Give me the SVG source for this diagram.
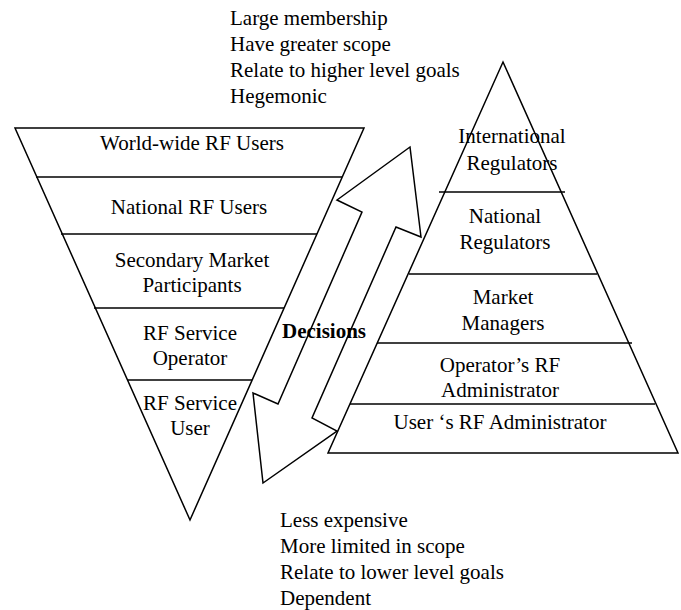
<svg xmlns="http://www.w3.org/2000/svg" width="681" height="610" viewBox="0 0 681 610">
<style>
.s{fill:none;stroke:#000;stroke-width:1.5;stroke-linejoin:miter}
.t{font-family:"Liberation Serif","Times New Roman",serif;font-size:21px;fill:#000}
.c{text-anchor:middle}
.b{font-weight:bold}
</style>
<rect width="681" height="610" fill="#fff"/>
<g id="top-notes" class="t">
<text x="230" y="25">Large membership</text>
<text x="230" y="51">Have greater scope</text>
<text x="230" y="77">Relate to higher level goals</text>
<text x="230" y="103">Hegemonic</text>
</g>
<g id="bottom-notes" class="t">
<text x="280" y="527">Less expensive</text>
<text x="280" y="553">More limited in scope</text>
<text x="280" y="579">Relate to lower level goals</text>
<text x="280" y="605">Dependent</text>
</g>
<g id="users-pyramid">
<polygon class="s" points="15,128 364,128 190,520"/>
<line class="s" x1="36" y1="177" x2="342" y2="177"/>
<line class="s" x1="61" y1="234" x2="317" y2="234"/>
<line class="s" x1="94" y1="308" x2="284" y2="308"/>
<line class="s" x1="127" y1="380" x2="252" y2="380"/>
<g class="t c">
<text x="192" y="150">World-wide RF Users</text>
<text x="189" y="214">National RF Users</text>
<text x="192" y="267">Secondary Market</text>
<text x="192" y="292">Participants</text>
<text x="190" y="340">RF Service</text>
<text x="190" y="365">Operator</text>
<text x="190" y="410">RF Service</text>
<text x="190" y="435">User</text>
</g>
</g>
<g id="regulators-pyramid">
<polygon class="s" points="503,62 678,453 328,453"/>
<line class="s" x1="439" y1="192" x2="565" y2="192"/>
<line class="s" x1="409" y1="274" x2="597" y2="274"/>
<line class="s" x1="377" y1="343" x2="632" y2="343"/>
<line class="s" x1="350" y1="404" x2="655" y2="404"/>
<g class="t c">
<text x="512" y="143">International</text>
<text x="512" y="170">Regulators</text>
<text x="505" y="223">National</text>
<text x="505" y="249">Regulators</text>
<text x="503" y="304">Market</text>
<text x="503" y="330">Managers</text>
<text x="500" y="372">Operator’s RF</text>
<text x="500" y="397">Administrator</text>
<text x="500" y="429">User ‘s RF Administrator</text>
</g>
</g>
<g id="connectors">
<polygon class="s" points="410,147 421,237 396,227 312,418 337,431 263,483 253,393 278,404 362,212 337,200"/>
<text class="t b c" x="324" y="338">Decisions</text>
</g>
</svg>
